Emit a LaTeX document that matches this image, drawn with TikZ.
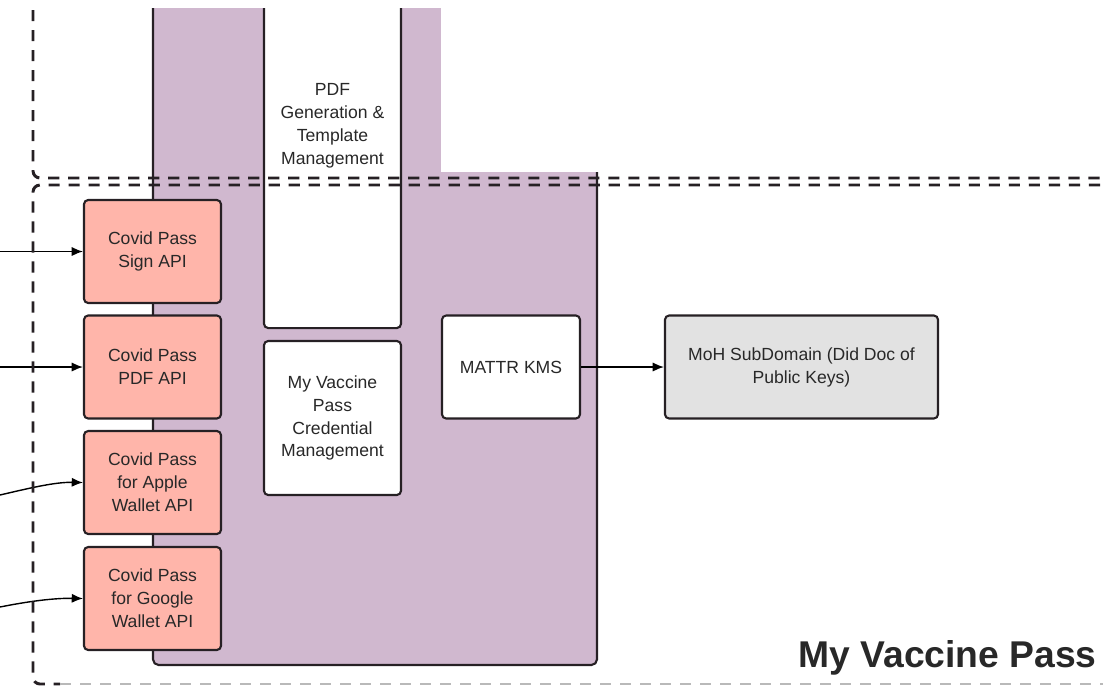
\documentclass[tikz,border=0pt]{standalone}
\usepackage{fontspec}
\setmainfont{Liberation Sans}
\usetikzlibrary{arrows.meta}
\definecolor{vpurple}{RGB}{208,184,207}
\definecolor{apisalmon}{RGB}{255,181,170}
\definecolor{mohgrey}{RGB}{226,226,226}
\definecolor{edgedark}{RGB}{38,32,36}
\definecolor{txtdark}{RGB}{40,40,40}
\tikzset{
  blockbox/.style={draw=edgedark, line width=1.5pt, rounded corners=3pt, align=center, inner sep=0pt,
    minimum width=3.425cm, minimum height=2.575cm, text=txtdark, font=\fontsize{12.5}{16.3}\selectfont},
  apibox/.style={blockbox, fill=apisalmon},
  svcbox/.style={blockbox, fill=white},
  zone/.style={draw=edgedark, line width=2.1pt, dash pattern=on 2.8mm off 2.2mm, rounded corners=5pt},
  feed/.style={draw=black, line width=1pt, -{Latex[length=2.8mm,width=2.3mm]}}
}
\begin{document}
\begin{tikzpicture}[x=0.025cm, y=-0.025cm]
	%%%%% START %%%%%
	\def\xapi{152.5}
	\def\xgen{332.5}
	\useasboundingbox (0,0) rectangle (1103,686);
	\clip (0,8) rectangle (1103,686);
	
	% purple block and the white part over it
	\draw[fill=vpurple, draw=edgedark, line width=1.5pt, rounded corners=4pt] (153,-30) rectangle (597,665);
	\fill[white] (441,-30) rectangle (720,172);
	
	\node[svcbox, minimum height=10.1cm] (pdfgen) at (\xgen,126) {PDF\\Generation \&\\Template\\Management};
	\node[svcbox, minimum height=3.85cm] (cred) at (\xgen,418) {My Vaccine\\Pass\\Credential\\Management};
	\node[svcbox, minimum width=3.45cm] (kms) at (511,367) {MATTR KMS};
	\node[blockbox, fill=mohgrey, minimum width=6.825cm] (moh) at (801.5,367) {MoH SubDomain (Did Doc of\\Public Keys)};
	
	\node[apibox] (sign) at (\xapi,251.5) {Covid Pass\\Sign API};
	\node[apibox] (pdfapi) at (\xapi,367) {Covid Pass\\PDF API};
	\node[apibox] (apple) at (\xapi,482.5) {Covid Pass\\for Apple\\Wallet API};
	\node[apibox] (google) at (\xapi,598.5) {Covid Pass\\for Google\\Wallet API};
	
	\draw[feed] (kms) -- (moh);
	
	\coordinate (insign) at (0,251.5);
	\coordinate (inpdf) at (0,367);
	\coordinate (inapple) at (0,495);
	\coordinate (ingoogle) at (0,607);
	\draw[feed] (insign) -- (sign);
	\draw[feed] (inpdf) -- (pdfapi);
	\draw[feed] (inapple) .. controls (30,488) and (55,482) .. (apple.west);
	\draw[feed] (ingoogle) .. controls (30,601) and (55,598) .. (google.west);
	
	% dashed zones
	\draw[zone] (33,-10) -- (33,178) -- (1120,178);
	\draw[zone] (1120,185) -- (33,185) -- (33,684) -- (60,684);
	\draw[zone, draw=gray!55, rounded corners=0pt] (60,684) -- (1120,684);
	
	\node[anchor=base east, inner sep=0pt, text=txtdark, font=\bfseries\fontsize{26.5}{30}\selectfont] (title) at (1097,667) {My Vaccine Pass};
	%%%%% END %%%%%
\end{tikzpicture}
\end{document}
